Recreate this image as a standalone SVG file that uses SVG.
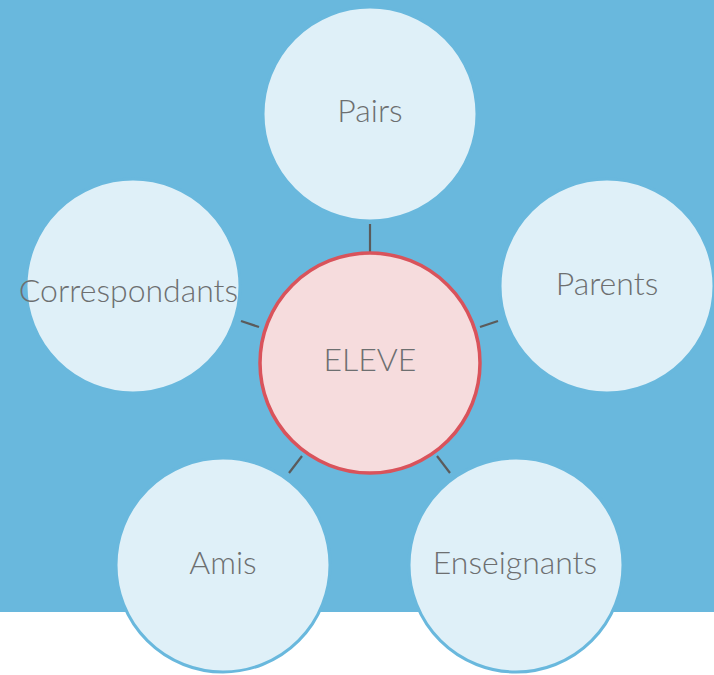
<svg xmlns="http://www.w3.org/2000/svg" width="714" height="675" viewBox="0 0 714 675">
<style>
.bg{fill:#69b8dd}
.node{fill:#dff0f8;stroke:#69b8dd;stroke-width:3}
.center{fill:#f6dcdd;stroke:#d9535b;stroke-width:3.5}
.lbl{font-family:Lato,"Liberation Sans",sans-serif;font-weight:300;font-size:32px;fill:#6d6f70;text-anchor:middle;dominant-baseline:central}
.conn line{stroke:#5b5b5b;stroke-width:2.2}
</style>
<rect width="714" height="675" fill="#ffffff"/>
<rect class="bg" x="0" y="0" width="714" height="612"/>
<g id="connectors" class="conn">
<line x1="370" y1="224" x2="370" y2="252"/>
<line x1="241" y1="321" x2="259" y2="327"/>
<line x1="480" y1="327" x2="498" y2="321"/>
<line x1="302" y1="456" x2="289" y2="473"/>
<line x1="437" y1="456" x2="450" y2="473"/>
</g>
<g id="node-pairs"><circle class="node" cx="370" cy="114" r="107"/><text class="lbl" x="370" y="109">Pairs</text></g>
<g id="node-correspondants"><circle class="node" cx="133" cy="286" r="107"/><text class="lbl" x="128.5" y="289">Correspondants</text></g>
<g id="node-parents"><circle class="node" cx="607" cy="286" r="107"/><text class="lbl" x="607" y="282">Parents</text></g>
<g id="node-amis"><circle class="node" cx="223" cy="565" r="107"/><text class="lbl" x="223" y="561">Amis</text></g>
<g id="node-enseignants"><circle class="node" cx="516" cy="565" r="107"/><text class="lbl" x="515" y="561">Enseignants</text></g>
<g id="node-eleve"><circle class="center" cx="370" cy="363" r="110"/><text class="lbl" x="370" y="358">ELEVE</text></g>
</svg>
